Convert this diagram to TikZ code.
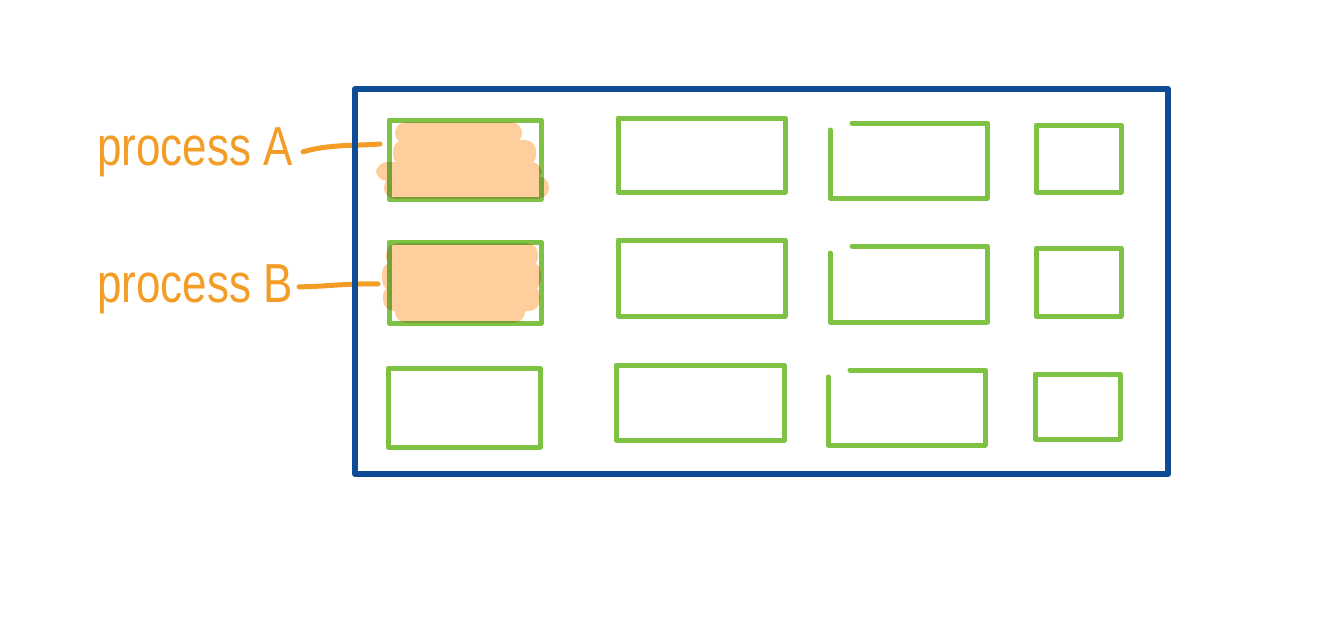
\documentclass[tikz,border=0pt]{standalone}
\usepackage{fontspec}
\setmainfont{Liberation Sans}
\usetikzlibrary{calc}
\definecolor{frameblue}{RGB}{16,76,148}
\definecolor{cellgreen}{RGB}{125,194,66}
\definecolor{olive}{RGB}{118,160,52}
\definecolor{labelorange}{RGB}{243,156,38}
\definecolor{peach}{RGB}{254,207,156}
\tikzset{
  frame/.style={draw=frameblue, line width=6pt, line join=round},
  cell/.style={draw=cellgreen, line width=5pt, line join=round, inner sep=0pt, outer sep=0pt, rectangle},
  opencell/.style={draw=cellgreen, line width=5pt, line join=round, line cap=round},
  hand/.style={text=labelorange, font=\fontsize{44}{44}\selectfont, inner sep=0pt},
  lead/.style={draw=labelorange, line width=5pt, line cap=round},
  scribble/.style={fill=peach, rounded corners=11pt},
  under/.style={draw=olive, line width=5pt, line join=round}
}
\newcommand{\blobA}{(395,122) rectangle (522,144) (393,140) rectangle (536,166) (376,162) rectangle (542,181) (384,176) rectangle (549,199)}
\newcommand{\blobB}{(386,243) rectangle (538,268) (382,262) rectangle (541,291) (383,285) rectangle (540,311) (395,300) rectangle (525,323)}
\begin{document}
\begin{tikzpicture}[x=1pt,y=-1pt]
\useasboundingbox (0,0) rectangle (1322,618);
% labels and leaders
\node[hand, anchor=base west] (labA) at (97,165) {\scalebox{1}[1.25]{process A}};
\node[hand, anchor=base west] (labB) at (97,302) {\scalebox{1}[1.25]{process B}};
\coordinate (endA) at (380,144);
\coordinate (endB) at (378,284);
\draw[lead] ($(labA.east)+(10,0)$) .. controls (330,144) and (355,146) .. (endA);
\draw[lead] ($(labB.east)+(6,-2)$) .. controls (320,287) and (350,283) .. (endB);
% outer frame
\node[frame, rectangle, inner sep=0pt, minimum width=813pt, minimum height=385pt] (outer) at (761.5,281.5) {};
% closed cells
\node[cell, minimum width=152pt, minimum height=79pt] (c11) at (465,159.5) {};
\node[cell, minimum width=167pt, minimum height=74pt] (c12) at (701.5,155) {};
\node[cell, minimum width=85pt, minimum height=67pt] (c14) at (1078.5,158.5) {};
\node[cell, minimum width=152pt, minimum height=81pt] (c21) at (465,282.5) {};
\node[cell, minimum width=167pt, minimum height=76pt] (c22) at (701.5,278) {};
\node[cell, minimum width=85pt, minimum height=68pt] (c24) at (1078.5,282) {};
\node[cell, minimum width=152pt, minimum height=79pt] (c31) at (464,407.5) {};
\node[cell, minimum width=168pt, minimum height=75pt] (c32) at (700,402.5) {};
\node[cell, minimum width=85pt, minimum height=65pt] (c34) at (1077.5,406.5) {};
% open-corner cells
\node[cell, draw=none, minimum width=157pt, minimum height=75pt] (c13) at (908.5,160.5) {};
\node[cell, draw=none, minimum width=157pt, minimum height=76pt] (c23) at (908.5,284) {};
\node[cell, draw=none, minimum width=157pt, minimum height=75pt] (c33) at (906.5,407.5) {};
\foreach \c in {c13,c23,c33}{
  \draw[opencell] ($(\c.north west)+(22,0)$) -- (\c.north east) -- (\c.south east) -- (\c.south west) -- ($(\c.north west)+(0,7)$);
}
% highlighted cells
\fill[scribble] \blobA;
\fill[scribble] \blobB;
\begin{scope}
  \clip[rounded corners=11pt] \blobA;
  \draw[under] (c11.north west) rectangle (c11.south east);
\end{scope}
\begin{scope}
  \clip[rounded corners=11pt] \blobB;
  \draw[under] (c21.north west) rectangle (c21.south east);
\end{scope}
\end{tikzpicture}
\end{document}
